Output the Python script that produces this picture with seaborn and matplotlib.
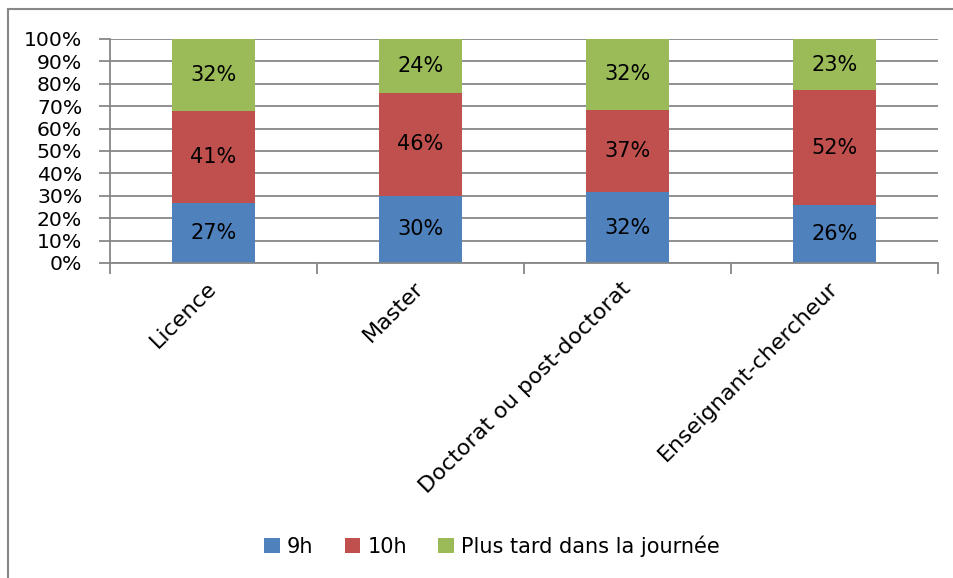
import matplotlib
matplotlib.use("Agg")
import matplotlib.pyplot as plt
import seaborn as sns
import pandas as pd
import numpy as np
from matplotlib.lines import Line2D
from matplotlib.patches import Patch

categories = ["Licence", "Master", "Doctorat ou post-doctorat", "Enseignant-chercheur"]
series = ["9h", "10h", "Plus tard dans la journée"]
v_9h = [27, 30, 32, 26]
v_10h = [41, 46, 37, 52]
v_later = [32, 24, 32, 23]
colors = ["#4F81BD", "#C0504D", "#9BBB59"]
ytick_vals = [0, 10, 20, 30, 40, 50, 60, 70, 80, 90, 100]
ytick_labels = [f"{v}%" for v in ytick_vals]

sns.set_theme(style="white")
plt.rcParams["font.family"] = ["DejaVu Sans"]

vals = np.array([v_9h, v_10h, v_later], dtype=float)
shares = vals / vals.sum(axis=0) * 100
cum = np.cumsum(shares, axis=0)

rows = []
for i, s in enumerate(series):
    for j, c in enumerate(categories):
        rows.append(dict(category=c, series=s, top=cum[i, j], value=vals[i, j],
                         mid=cum[i, j] - shares[i, j] / 2))
df = pd.DataFrame(rows)

W, H = 954, 578
fig = plt.figure(figsize=(W / 100, H / 100), dpi=100)
ax = fig.add_axes([110 / W, 1 - 263 / H, 828 / W, 224 / H])

for i in reversed(range(len(series))):
    sub = df[df.series == series[i]]
    sns.barplot(data=sub, x="category", y="top", order=categories, color=colors[i],
                width=0.4, saturation=1, errorbar=None, linewidth=0, ax=ax, zorder=2)

for _, r in df.iterrows():
    j = categories.index(r.category)
    ax.text(j, r.mid, f"{int(r.value)}%", ha="center", va="center", fontsize=15,
            color="black", zorder=3)

gray = "#878787"
ax.set_xlim(-0.5, len(categories) - 0.5)
ax.set_ylim(0, 100)
ax.set_yticks(ytick_vals)
ax.set_yticklabels(ytick_labels, fontsize=14.7)
ax.yaxis.grid(True, color=gray, lw=1.3, zorder=0)
ax.set_axisbelow(True)
ax.set_xlabel("")
ax.set_ylabel("")
for s in ["top", "right"]:
    ax.spines[s].set_visible(False)
for s in ["left", "bottom"]:
    ax.spines[s].set_visible(True)
    ax.spines[s].set_color(gray)
    ax.spines[s].set_linewidth(1.3)
ax.tick_params(axis="y", which="major", left=True, length=8, width=1.3, color=gray,
               direction="out", pad=12, labelcolor="black")
ax.set_xticks(range(len(categories)))
ax.set_xticklabels(categories, rotation=45, ha="right", rotation_mode="anchor",
                   va="center", fontsize=16)
ax.tick_params(axis="x", which="major", length=0, pad=16, labelcolor="black")
ax.set_xticks(np.arange(-0.5, len(categories), 1.0), minor=True)
ax.tick_params(axis="x", which="minor", bottom=True, length=8, width=1.3, color=gray,
               direction="out")

handles = [Patch(facecolor=colors[i], edgecolor="none", label=series[i]) for i in range(3)]
leg = fig.legend(handles=handles, loc="center", bbox_to_anchor=(492 / W, 1 - 546 / H), ncol=3,
                 frameon=False, fontsize=15, handlelength=0.75, handleheight=0.75,
                 handletextpad=0.35, columnspacing=1.5)
for t in leg.get_texts():
    t.set_color("black")

fig.add_artist(Line2D([8 / W, 1], [1 - 9 / H, 1 - 9 / H], color=gray, lw=1.5,
                      transform=fig.transFigure))
fig.add_artist(Line2D([8 / W, 8 / W], [0, 1 - 9 / H], color=gray, lw=1.5,
                      transform=fig.transFigure))

fig.savefig("out.png", dpi=100)
